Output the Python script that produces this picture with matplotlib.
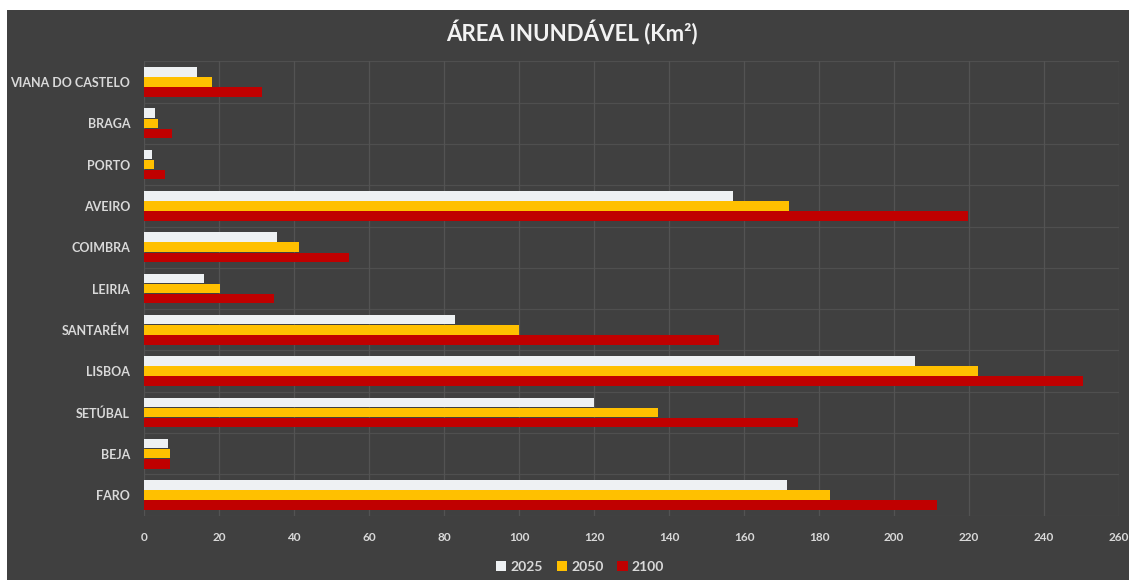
import numpy as np
import matplotlib
matplotlib.use("Agg")
import matplotlib.pyplot as plt
from matplotlib.patches import Rectangle

# flooded area per district (km2), top to bottom as drawn
districts = ["VIANA DO CASTELO", "BRAGA", "PORTO", "AVEIRO", "COIMBRA", "LEIRIA",
             "SANTARÉM", "LISBOA", "SETÚBAL", "BEJA", "FARO"]
years = ["2025", "2050", "2100"]
area_2025 = [14, 3, 2, 157, 35.5, 16, 83, 205.5, 120, 6.5, 171.5]
area_2050 = [18, 3.7, 2.7, 172, 41.3, 20.3, 100, 222.3, 137, 6.8, 183]
area_2100 = [31.5, 7.5, 5.6, 219.7, 54.7, 34.7, 153.3, 250.3, 174.5, 7.0, 211.5]

colors = ["#EEF1F3", "#FFC000", "#C00000"]
bg = "#404040"
txt = "#D9D9D9"

plt.rcParams['font.family'] = ['Lato', 'DejaVu Sans']

W, H = 1129, 582
fig = plt.figure(figsize=(W / 100, H / 100), dpi=100, facecolor="white")
fig.patches.append(Rectangle((7 / W, 2 / H), 1 - 7 / W, 1 - 12 / H,
                             transform=fig.transFigure, facecolor=bg,
                             edgecolor="none", zorder=-10))

ax = fig.add_axes([144 / W, (H - 515.6) / H, (1119 - 144) / W, (515.6 - 61.4) / H])
ax.set_facecolor(bg)

y = np.arange(len(districts))
h = 0.23
step = 0.245
for k, (vals, c, lab) in enumerate(zip([area_2025, area_2050, area_2100], colors, years)):
    ax.barh(y + (k - 1) * step, vals, height=h, color=c, label=lab, zorder=3)

ax.set_ylim(len(districts) - 0.5, -0.5)
ax.set_xlim(0, 260)
ax.set_xticks(np.arange(0, 261, 20))
ax.set_yticks(y)
ax.set_yticklabels(districts)

# vertical value grid plus separators between districts
ax.grid(axis="x", color="#535353", linewidth=0.9, zorder=0)
for b in np.arange(-0.5, len(districts), 1.0):
    ax.axhline(b, color="#4f4f4f", linewidth=0.9, zorder=0)

for s in ax.spines.values():
    s.set_visible(False)
ax.tick_params(axis="both", length=0, colors=txt)
ax.tick_params(axis="x", pad=12)
ax.tick_params(axis="y", pad=10)
for t in ax.get_xticklabels():
    t.set_fontweight("bold")
    t.set_fontsize(8.5)
    t.set_color(txt)
for t in ax.get_yticklabels():
    t.set_fontweight("bold")
    t.set_fontsize(9)
    t.set_color(txt)

fig.text(572 / W, 1 - 33 / H, "ÁREA INUNDÁVEL (Km²)", ha="center", va="center",
         color="#F2F2F2", fontsize=16, fontweight="bold")

leg = fig.legend(loc="center", bbox_to_anchor=(580 / W, 1 - 567 / H), ncol=3,
                 frameon=False, handlelength=0.75, handleheight=0.75,
                 handletextpad=0.3, columnspacing=1.0, fontsize=10)
for t in leg.get_texts():
    t.set_color(txt)
    t.set_fontweight("bold")

fig.savefig("out.png", dpi=100, facecolor=fig.get_facecolor())
